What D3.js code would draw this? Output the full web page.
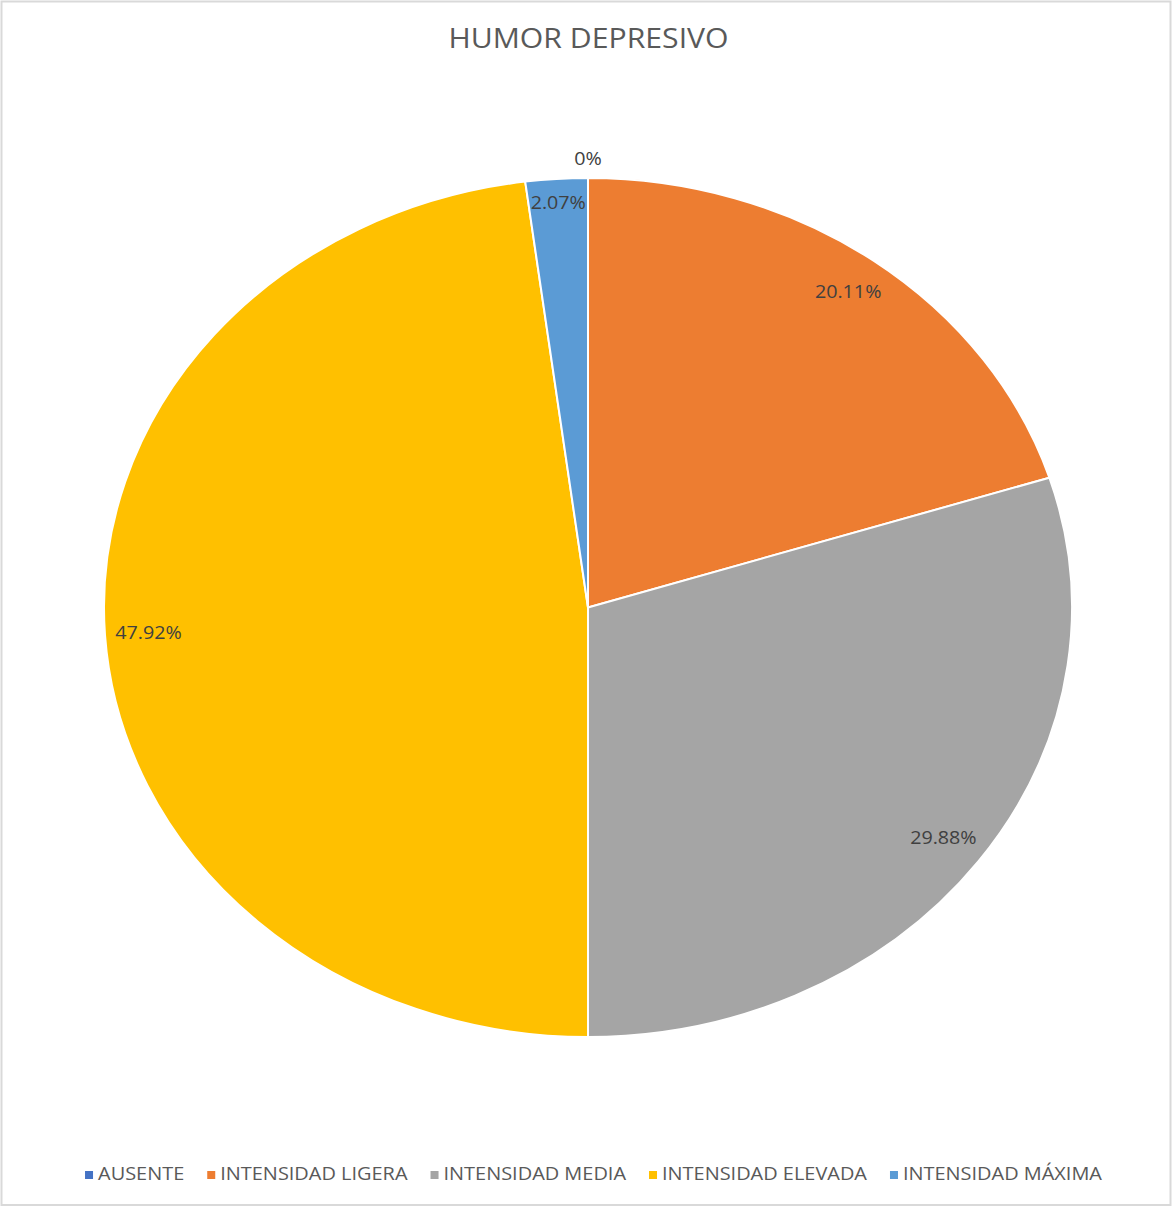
<!DOCTYPE html>
<html>
<head>
<meta charset="utf-8">
<script src="https://cdn.jsdelivr.net/npm/d3@7"></script>
<style>
  html, body { margin: 0; padding: 0; background: #fff; }
  svg { display: block; }
  text { font-family: "Open Sans", "Noto Sans", sans-serif; }
</style>
</head>
<body>
<svg id="chart" width="1173" height="1207"></svg>
<script>
// Distribution of depressive mood intensity
const title = "HUMOR DEPRESIVO";
const categories = ["AUSENTE", "INTENSIDAD LIGERA", "INTENSIDAD MEDIA", "INTENSIDAD ELEVADA", "INTENSIDAD MÁXIMA"];
const percentages = [0, 20.11, 29.88, 47.92, 2.07];
const colors = ["#4472C4", "#ED7D31", "#A5A5A5", "#FFC000", "#5B9BD5"];

const W = 1173, H = 1207;
const svg = d3.select("#chart");

// The whole chart is stretched horizontally by this factor
const cx = 588, cy = 607.5, rx = 484, ry = 429.5;
const sx = rx / ry;

// Outer frame
svg.append("rect")
  .attr("x", 1.5).attr("y", 1.5)
  .attr("width", W - 4).attr("height", H - 3.5)
  .attr("fill", "#fff").attr("stroke", "#d9d9d9").attr("stroke-width", 2);

// Title
svg.append("text")
  .attr("transform", `translate(588.5,48) scale(${sx},1)`)
  .attr("text-anchor", "middle")
  .attr("font-size", 26.8)
  .attr("fill", "#595959")
  .text(title);

// Pie (elliptical: circle stretched horizontally)
const data = categories.map((c, i) => ({ name: c, value: percentages[i], color: colors[i] }));

const pie = d3.pie().sort(null).value(d => d.value);
const arcs = pie(data);
const arc = d3.arc().innerRadius(0).outerRadius(ry);

const g = svg.append("g")
  .attr("transform", `translate(${cx},${cy}) scale(${sx},1)`);

g.selectAll("path.slice")
  .data(arcs.filter(a => a.data.value > 0))
  .join("path")
  .attr("class", "slice")
  .attr("d", arc)
  .attr("fill", d => d.data.color)
  .attr("stroke", "#fff")
  .attr("stroke-width", 2)
  .attr("stroke-linejoin", "round")
  .attr("vector-effect", "non-scaling-stroke");

// Data labels near the outer edge of each slice (outside for empty slices)
const fmt = v => (v === 0 ? "0%" : v.toFixed(2) + "%");
const labelFrac = v => (v === 0 ? 1.045 : (v < 5 ? 0.945 : 0.91));
svg.append("g").selectAll("text")
  .data(arcs)
  .join("text")
  .attr("transform", d => {
    const a = (d.startAngle + d.endAngle) / 2;
    const f = labelFrac(d.data.value);
    const x = cx + rx * f * Math.sin(a);
    const y = cy - ry * f * Math.cos(a);
    return `translate(${x},${y}) scale(${sx},1)`;
  })
  .attr("dy", "0.35em")
  .attr("text-anchor", "middle")
  .attr("font-size", 17.5)
  .attr("fill", "#404040")
  .text(d => fmt(d.data.value));

// Legend, centered below the pie
const legend = svg.append("g");
const items = legend.selectAll("g")
  .data(data)
  .join("g");
items.append("rect")
  .attr("width", 8).attr("height", 8)
  .attr("y", -9)
  .attr("fill", d => d.color);
items.append("text")
  .attr("transform", `translate(13,0) scale(${sx},1)`)
  .attr("font-size", 17.7)
  .attr("fill", "#595959")
  .text(d => d.name);

let xpos = 0;
const gap = 23;
items.each(function () {
  const node = d3.select(this);
  const w = node.select("text").node().getComputedTextLength() * sx + 13;
  node.attr("transform", `translate(${xpos},0)`);
  xpos += w + gap;
});
const total = xpos - gap;
legend.attr("transform", `translate(${593.5 - total / 2},1180)`);
</script>
</body>
</html>
